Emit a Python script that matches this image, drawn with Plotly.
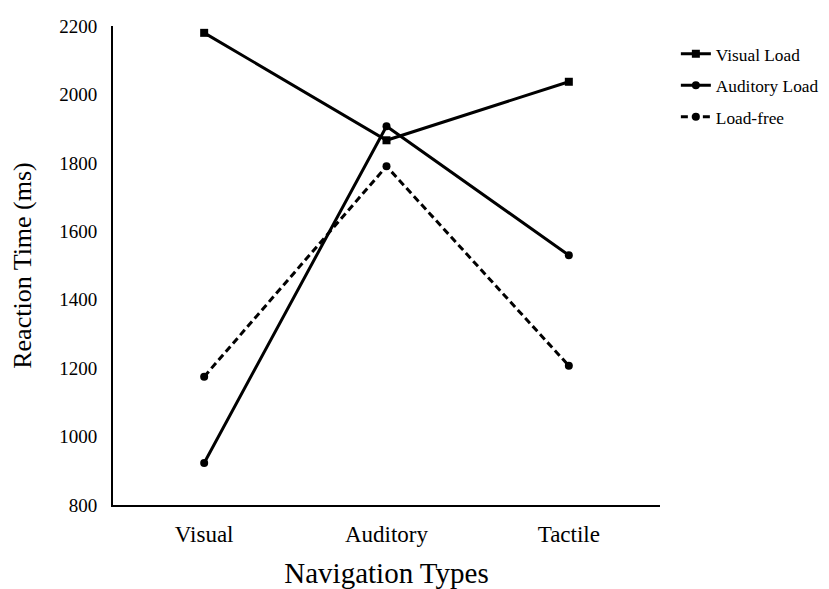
import plotly.graph_objects as go

categories = ["Visual", "Auditory", "Tactile"]
visual_load = [2180, 1866, 2037]
auditory_load = [923, 1907, 1530]
load_free = [1175, 1790, 1207]
y_ticks = [800, 1000, 1200, 1400, 1600, 1800, 2000, 2200]

FONT = "Liberation Serif, Times New Roman, serif"

fig = go.Figure()
fig.add_trace(go.Scatter(
    x=categories, y=visual_load, name="Visual Load", mode="lines+markers",
    line=dict(color="black", width=3), marker=dict(symbol="square", size=8, color="black"),
    legendgroup="a"))
fig.add_trace(go.Scatter(
    x=categories, y=auditory_load, name="Auditory Load", mode="lines+markers",
    line=dict(color="black", width=3), marker=dict(symbol="circle", size=8, color="black"),
    legendgroup="b"))
fig.add_trace(go.Scatter(
    x=categories, y=load_free, name="Load-free", mode="lines+markers",
    line=dict(color="black", width=3, dash="7px,4px"), marker=dict(symbol="circle", size=8, color="black"),
    legendgroup="c"))

# The page body adds an 8px offset, so the figure is sized 821x581.
fig.update_layout(
    width=821, height=581,
    margin=dict(l=105, r=169, t=18, b=84, autoexpand=False),
    paper_bgcolor="white", plot_bgcolor="white",
    font=dict(family=FONT, color="black"),
    showlegend=True,
    legend=dict(x=1.029, y=0.979, xanchor="left", yanchor="top",
                font=dict(size=17.3, family=FONT, color="black"),
                tracegroupgap=6, bgcolor="rgba(0,0,0,0)"),
    xaxis=dict(
        type="category", range=[-0.5, 2.5], automargin=False,
        showline=True, linecolor="black", linewidth=2,
        showgrid=False, zeroline=False, ticks="",
        tickfont=dict(size=23, family=FONT, color="black"),
        ticklabelstandoff=7,
        title=dict(text="Navigation Types", font=dict(size=29, family=FONT, color="black"), standoff=27),
    ),
    yaxis=dict(
        range=[800, 2200], tickvals=y_ticks, automargin=False,
        showline=True, linecolor="black", linewidth=2,
        showgrid=False, zeroline=False, ticks="",
        tickfont=dict(size=19, family=FONT, color="black"),
        ticklabelstandoff=10,
        title=dict(text="Reaction Time (ms)", font=dict(size=26, family=FONT, color="black"), standoff=22),
    ),
)

fig.write_html("out.html")
